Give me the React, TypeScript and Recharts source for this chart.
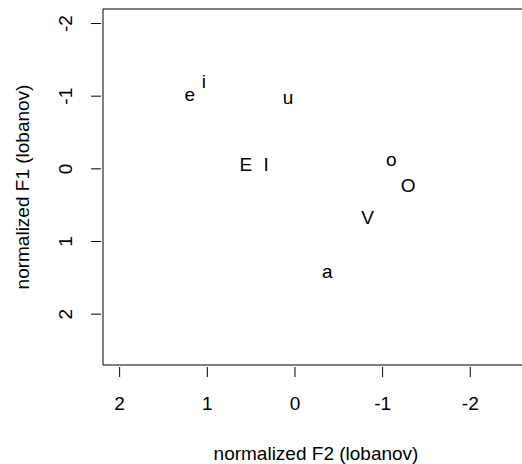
import { ScatterChart, Scatter, XAxis, YAxis, ReferenceArea } from 'recharts';

// vowel labels and their normalized formant values (lobanov)
const vowels = ['e', 'i', 'u', 'E', 'I', 'o', 'O', 'V', 'a'];
const f2Values = [1.20, 1.04, 0.08, 0.56, 0.33, -1.10, -1.29, -0.83, -0.37];
const f1Values = [-1.00, -1.20, -0.96, -0.06, -0.07, -0.11, 0.23, 0.66, 1.43];
const axisTicks = [-2, -1, 0, 1, 2];

const xDomain = [-2.67, 2.19];
const yDomain = [-2.2, 2.7];

const FONT = '"Liberation Sans", Arial, sans-serif';
const FS = 19;

const data = vowels.map((v, i) => ({ label: v, f2: f2Values[i], f1: f1Values[i] }));

// R centres the glyph box on the point, so shift baseline by glyph type
const isTall = (s: string) => /[A-Z]|i|l|d|b/.test(s);

function VowelLabel(props: any) {
  const { cx, cy, payload } = props;
  const dy = isTall(payload.label) ? 0.36 * FS : 0.26 * FS;
  return (
    <text x={cx} y={cy + dy} textAnchor="middle" fontSize={FS} fontFamily={FONT} fill="#000">
      {payload.label}
    </text>
  );
}

function XTick(props: any) {
  const { x, y, payload } = props;
  return (
    <g>
      <line x1={x} x2={x} y1={y + 2} y2={y + 12} stroke="#000" strokeWidth={1} />
      <text x={x} y={y + 37.7 + 0.36 * FS} textAnchor="middle" fontSize={FS} fontFamily={FONT} fill="#000">
        {String(payload.value)}
      </text>
    </g>
  );
}

function YTick(props: any) {
  const { x, y, payload } = props;
  const tx = x - 38;
  return (
    <g>
      <line x1={x - 12} x2={x - 2} y1={y} y2={y} stroke="#000" strokeWidth={1} />
      <text
        x={tx}
        y={y + 0.36 * FS}
        transform={`rotate(-90, ${tx}, ${y})`}
        textAnchor="middle"
        fontSize={FS}
        fontFamily={FONT}
        fill="#000"
      >
        {String(payload.value)}
      </text>
    </g>
  );
}

export default function App() {
  return (
    <div style={{ position: 'absolute', left: 0, top: 0, width: 522, height: 464, overflow: 'hidden', background: '#fff' }}>
      <ScatterChart width={540} height={464} margin={{ top: 9, right: 11, bottom: 39, left: 43 }}>
        <XAxis
          type="number"
          dataKey="f2"
          domain={xDomain}
          reversed
          ticks={axisTicks}
          allowDataOverflow
          height={60}
          tickSize={0}
          tickMargin={0}
          axisLine={false}
          tickLine={false}
          tick={<XTick />}
          label={{
            content: () => (
              <text x={316} y={452.7 + 0.36 * FS} textAnchor="middle" fontSize={FS} fontFamily={FONT} fill="#000">
                normalized F2 (lobanov)
              </text>
            ),
          }}
        />
        <YAxis
          type="number"
          dataKey="f1"
          domain={yDomain}
          reversed
          ticks={axisTicks}
          allowDataOverflow
          width={60}
          tickSize={0}
          tickMargin={0}
          axisLine={false}
          tickLine={false}
          tick={<YTick />}
          label={{
            content: () => (
              <text
                x={21.7}
                y={187 + 0.36 * FS}
                transform={`rotate(-90, 21.7, 187)`}
                textAnchor="middle"
                fontSize={FS}
                fontFamily={FONT}
                fill="#000"
              >
                normalized F1 (lobanov)
              </text>
            ),
          }}
        />
        <ReferenceArea
          x1={xDomain[1]}
          x2={xDomain[0]}
          y1={yDomain[0]}
          y2={yDomain[1]}
          fill="none"
          stroke="#000"
          strokeWidth={1}
          ifOverflow="visible"
        />
        <Scatter data={data} shape={<VowelLabel />} isAnimationActive={false} />
      </ScatterChart>
    </div>
  );
}
